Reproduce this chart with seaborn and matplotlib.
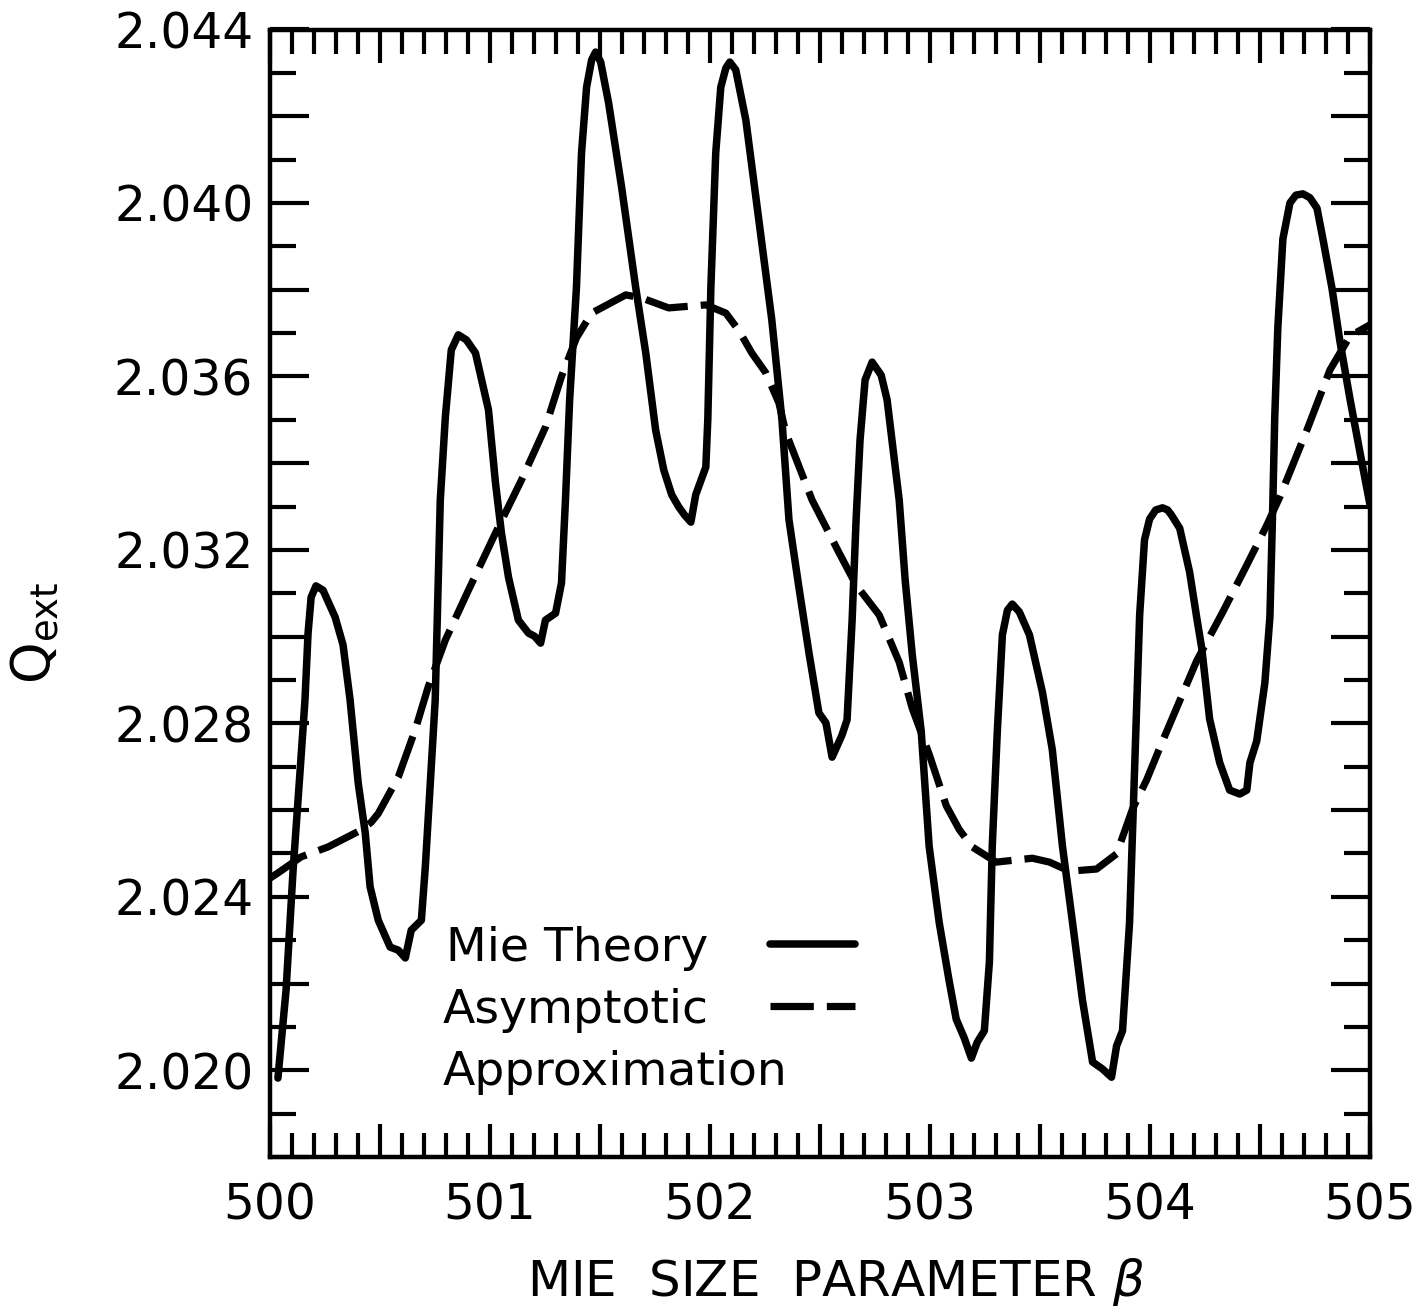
import matplotlib
matplotlib.use("Agg")
import matplotlib.pyplot as plt
from matplotlib.ticker import MultipleLocator, FuncFormatter
import pandas as pd
import seaborn as sns

# ---------------- data ----------------
mie_beta = [500.036, 500.073, 500.105, 500.137, 500.159, 500.173, 500.187, 500.209, 500.241, 500.296,
            500.332, 500.364, 500.401, 500.433, 500.455, 500.492, 500.546, 500.583, 500.615, 500.642,
            500.688, 500.706, 500.733, 500.751, 500.774, 500.797, 500.824, 500.856, 500.893, 500.934,
            500.993, 501.025, 501.052, 501.084, 501.129, 501.175, 501.202, 501.230, 501.252, 501.298,
            501.325, 501.343, 501.362, 501.393, 501.416, 501.439, 501.462, 501.480, 501.503, 501.539,
            501.598, 501.662, 501.708, 501.753, 501.790, 501.826, 501.858, 501.885, 501.913, 501.935,
            501.981, 501.990, 502.004, 502.026, 502.049, 502.072, 502.090, 502.117, 502.163, 502.222,
            502.281, 502.327, 502.359, 502.404, 502.450, 502.495, 502.527, 502.555, 502.600, 502.623,
            502.646, 502.664, 502.682, 502.705, 502.737, 502.778, 502.805, 502.860, 502.887, 502.919,
            502.960, 502.996, 503.042, 503.087, 503.119, 503.156, 503.188, 503.215, 503.247, 503.270,
            503.283, 503.306, 503.329, 503.352, 503.374, 503.406, 503.452, 503.511, 503.556, 503.602,
            503.648, 503.693, 503.739, 503.784, 503.825, 503.848, 503.875, 503.907, 503.930, 503.953,
            503.975, 503.998, 504.026, 504.057, 504.080, 504.098, 504.135, 504.180, 504.212, 504.235,
            504.271, 504.317, 504.362, 504.408, 504.440, 504.454, 504.485, 504.522, 504.545, 504.558,
            504.567, 504.581, 504.604, 504.636, 504.663, 504.695, 504.727, 504.759, 504.786, 504.827,
            504.863, 504.909, 504.954, 505.000]
mie_qext = [2.01982, 2.02185, 2.02462, 2.02692, 2.02854, 2.03008, 2.03091, 2.03117, 2.03107, 2.03045,
            2.02981, 2.02854, 2.02662, 2.02547, 2.02423, 2.02346, 2.02284, 2.02277, 2.02259, 2.02323,
            2.02346, 2.02469, 2.02699, 2.02854, 2.03315, 2.03506, 2.03661, 2.03696, 2.03684, 2.03654,
            2.03523, 2.03354, 2.03239, 2.03137, 2.03038, 2.03008, 2.03001, 2.02985, 2.03038, 2.03054,
            2.03124, 2.03315, 2.03546, 2.03806, 2.04115, 2.04267, 2.04330, 2.04348, 2.04325, 2.04231,
            2.04037, 2.03806, 2.03654, 2.03476, 2.03384, 2.03327, 2.03299, 2.03280, 2.03264, 2.03327,
            2.03391, 2.03500, 2.03806, 2.04115, 2.04267, 2.04311, 2.04325, 2.04307, 2.04191, 2.03961,
            2.03730, 2.03500, 2.03269, 2.03114, 2.02962, 2.02824, 2.02801, 2.02722, 2.02773, 2.02808,
            2.03038, 2.03269, 2.03453, 2.03592, 2.03633, 2.03603, 2.03546, 2.03315, 2.03131, 2.02960,
            2.02782, 2.02517, 2.02340, 2.02206, 2.02118, 2.02074, 2.02028, 2.02065, 2.02091, 2.02250,
            2.02517, 2.02782, 2.03004, 2.03061, 2.03075, 2.03057, 2.03004, 2.02872, 2.02739, 2.02517,
            2.02340, 2.02162, 2.02019, 2.02003, 2.01984, 2.02056, 2.02091, 2.02340, 2.02695, 2.03050,
            2.03223, 2.03271, 2.03292, 2.03297, 2.03292, 2.03280, 2.03250, 2.03149, 2.03045, 2.02974,
            2.02810, 2.02709, 2.02646, 2.02637, 2.02646, 2.02709, 2.02759, 2.02893, 2.03045, 2.03301,
            2.03506, 2.03712, 2.03917, 2.04000, 2.04018, 2.04021, 2.04012, 2.03988, 2.03917, 2.03804,
            2.03682, 2.03548, 2.03426, 2.03304]

asym_beta = [500.000, 500.036, 500.141, 500.264, 500.414, 500.460, 500.492, 500.583, 500.660, 500.719,
             500.797, 500.902, 501.025, 501.143, 501.252, 501.325, 501.393, 501.462, 501.617, 501.689,
             501.812, 501.981, 502.072, 502.131, 502.190, 502.254, 502.313, 502.345, 502.464, 502.587,
             502.664, 502.769, 502.860, 502.919, 502.996, 503.074, 503.133, 503.192, 503.301, 503.465,
             503.543, 503.634, 503.757, 503.848, 503.921, 503.985, 504.057, 504.212, 504.331, 504.440,
             504.531, 504.590, 504.713, 504.818, 504.909, 505.000]
asym_qext = [2.02443, 2.02455, 2.02492, 2.02515, 2.02554, 2.02572, 2.02592, 2.02676, 2.02785, 2.02884,
             2.02992, 2.03107, 2.03239, 2.03361, 2.03483, 2.03600, 2.03689, 2.03746, 2.03788, 2.03781,
             2.03758, 2.03765, 2.03746, 2.03706, 2.03654, 2.03608, 2.03539, 2.03470, 2.03315, 2.03193,
             2.03119, 2.03050, 2.02941, 2.02835, 2.02729, 2.02610, 2.02555, 2.02515, 2.02480, 2.02489,
             2.02480, 2.02459, 2.02464, 2.02499, 2.02603, 2.02670, 2.02759, 2.02944, 2.03057, 2.03165,
             2.03257, 2.03322, 2.03476, 2.03615, 2.03693, 2.03719]

series_labels = ["Mie Theory", "Asymptotic"]
extra_label = "Approximation"
x_title = "MIE  SIZE  PARAMETER $\\beta$"
y_title = "$\\mathregular{Q_{ext}}$"

# ---------------- style ----------------
sns.set_theme(style="white", rc={
    "text.color": "black", "axes.labelcolor": "black",
    "xtick.color": "black", "ytick.color": "black",
    "axes.edgecolor": "black",
})
plt.rcParams["font.family"] = ["DejaVu Sans"]
plt.rcParams["mathtext.fontset"] = "dejavusans"

W, H = 1424, 1312
fig = plt.figure(figsize=(W / 100, H / 100), dpi=100)
ax = fig.add_axes([270 / W, 1 - 1157 / H, 1100 / W, (1157 - 29.5) / H])

mie = pd.DataFrame({"beta": mie_beta, "Qext": mie_qext})
asym = pd.DataFrame({"beta": asym_beta, "Qext": asym_qext})

sns.lineplot(data=mie, x="beta", y="Qext", ax=ax, color="black", linewidth=5.4,
             sort=False, estimator=None, legend=False,
             solid_joinstyle="round", solid_capstyle="round")
sns.lineplot(data=asym, x="beta", y="Qext", ax=ax, color="black", linewidth=5.2,
             sort=False, estimator=None, legend=False,
             linestyle=(0, (6.0, 1.8)), dash_capstyle="butt", dash_joinstyle="round")

ax.set_xlim(500, 505)
ax.set_ylim(2.018, 2.044)

ax.xaxis.set_major_locator(MultipleLocator(0.5))
ax.xaxis.set_minor_locator(MultipleLocator(0.1))
ax.xaxis.set_major_formatter(FuncFormatter(
    lambda v, p: f"{v:.0f}" if abs(v - round(v)) < 1e-6 else ""))
ax.yaxis.set_major_locator(MultipleLocator(0.002))
ax.yaxis.set_minor_locator(MultipleLocator(0.001))
ax.yaxis.set_major_formatter(FuncFormatter(
    lambda v, p: f"{v:.3f}" if round(v * 1000) % 4 == 0 else ""))

ax.tick_params(axis="x", which="major", direction="in", length=24, width=3,
               top=True, bottom=True, pad=18, labelsize=35)
ax.tick_params(axis="x", which="minor", direction="in", length=17, width=3,
               top=True, bottom=True)
ax.tick_params(axis="y", which="major", direction="in", length=28, width=3,
               left=True, right=True, pad=12, labelsize=35)
ax.tick_params(axis="y", which="minor", direction="in", length=19, width=3,
               left=True, right=True)

for s in ax.spines.values():
    s.set_linewidth(3.2)
    s.set_color("black")

ax.set_xlabel(x_title, fontsize=36)
ax.xaxis.set_label_coords(0.514, -0.088)
ax.set_ylabel(y_title, fontsize=38)
ax.yaxis.set_label_coords(-0.19, 0.465)

lines = ax.get_lines()
leg = ax.legend(handles=lines[:2], labels=series_labels, loc="upper left",
                bbox_to_anchor=(0.157, 0.205), markerfirst=False, frameon=False,
                fontsize=34, handlelength=1.8, handletextpad=1.3, labelspacing=0.36,
                borderpad=0, borderaxespad=0)
leg.set_zorder(5)

# place the third legend line under "Asymptotic", at the same row spacing
fig.canvas.draw()
texts = leg.get_texts()
bb0 = texts[0].get_window_extent()
bb1 = texts[1].get_window_extent()
row_step_pt = (bb0.y0 - bb1.y0) * 72.0 / fig.dpi
ax.annotate(extra_label, xy=(0, 0), xycoords=texts[1], xytext=(0, -row_step_pt),
            textcoords="offset points", ha="left", va="bottom", fontsize=34,
            zorder=6, annotation_clip=False)

fig.savefig("out.png", dpi=100, facecolor="white")
